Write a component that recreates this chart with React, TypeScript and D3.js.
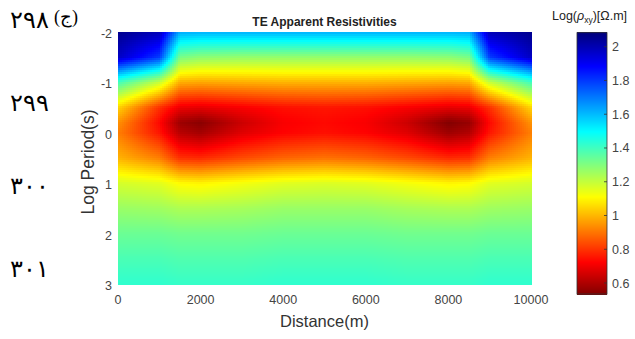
import React, { useRef, useEffect } from "react";
import * as d3 from "d3";

// grid of the apparent resistivity section (log10 ohm.m)
const distances = [0, 1000, 1500, 2000, 3000, 4000, 5000, 6000, 7000, 8000, 8500, 9000, 10000];
const periods = [-2, -1.5, -1, -0.5, -0.2, 0, 0.5, 1, 1.5, 2, 2.5, 3];

const rowM20 = [2.06, 2.0, 1.63, 1.62, 1.62, 1.62, 1.62, 1.62, 1.62, 1.62, 1.63, 2.0, 2.06];
const rowM15 = [1.98, 1.8, 1.32, 1.29, 1.28, 1.28, 1.28, 1.28, 1.28, 1.29, 1.32, 1.8, 1.98];
const rowM10 = [1.4, 1.2, 0.99, 0.98, 0.99, 1.0, 1.0, 1.0, 0.99, 0.98, 0.99, 1.2, 1.4];
const rowM05 = [1.05, 0.8, 0.7, 0.69, 0.72, 0.75, 0.76, 0.75, 0.72, 0.69, 0.7, 0.8, 1.05];
const rowM02 = [0.95, 0.74, 0.58, 0.55, 0.65, 0.72, 0.74, 0.72, 0.65, 0.54, 0.57, 0.74, 0.95];
const row00 = [0.92, 0.76, 0.62, 0.59, 0.68, 0.73, 0.75, 0.73, 0.68, 0.58, 0.61, 0.76, 0.92];
const row05 = [1.0, 0.92, 0.8, 0.79, 0.84, 0.88, 0.9, 0.88, 0.84, 0.79, 0.8, 0.92, 1.0];
const row10 = [1.18, 1.16, 1.11, 1.1, 1.13, 1.16, 1.17, 1.16, 1.13, 1.1, 1.11, 1.16, 1.18];
const row15 = [1.27, 1.26, 1.24, 1.24, 1.25, 1.27, 1.27, 1.27, 1.25, 1.24, 1.24, 1.26, 1.27];
const row20 = [1.34, 1.34, 1.33, 1.33, 1.33, 1.34, 1.34, 1.34, 1.33, 1.33, 1.33, 1.34, 1.34];
const row25 = [1.39, 1.39, 1.38, 1.38, 1.38, 1.39, 1.39, 1.39, 1.38, 1.38, 1.38, 1.39, 1.39];
const row30 = [1.43, 1.43, 1.42, 1.42, 1.42, 1.43, 1.43, 1.43, 1.42, 1.42, 1.42, 1.43, 1.43];
const grid = [rowM20, rowM15, rowM10, rowM05, rowM02, row00, row05, row10, row15, row20, row25, row30];

const xTicks = [0, 2000, 4000, 6000, 8000, 10000];
const yTicks = [-2, -1, 0, 1, 2, 3];
const cbTicks = [0.6, 0.8, 1, 1.2, 1.4, 1.6, 1.8, 2];
const colorDomain = [0.535, 2.083];
const pageNumbers = ["٢٩٨", "٢٩٩", "٣٠٠", "٣٠١"];

const jet = (t: number) => {
  const c = (v: number) => Math.round(255 * Math.max(0, Math.min(1, v)));
  return `rgb(${c(1.5 - Math.abs(4 * t - 3))},${c(1.5 - Math.abs(4 * t - 2))},${c(1.5 - Math.abs(4 * t - 1))})`;
};

const sample = (d: number, p: number) => {
  const i = Math.max(0, Math.min(distances.length - 2, d3.bisectRight(distances, d) - 1));
  const j = Math.max(0, Math.min(periods.length - 2, d3.bisectRight(periods, p) - 1));
  const tx = (d - distances[i]) / (distances[i + 1] - distances[i]);
  const ty = (p - periods[j]) / (periods[j + 1] - periods[j]);
  const a = grid[j][i] * (1 - tx) + grid[j][i + 1] * tx;
  const b = grid[j + 1][i] * (1 - tx) + grid[j + 1][i + 1] * tx;
  return a * (1 - ty) + b * ty;
};

const font = "'Liberation Sans', Arial, sans-serif";

const App = () => {
  const svgRef = useRef<SVGSVGElement>(null);

  useEffect(() => {
    const svg = d3.select(svgRef.current);
    svg.selectAll("*").remove();

    const left = 118, right = 531, top = 32, bottom = 284;
    const x = d3.scaleLinear().domain([0, 10000]).range([left, right]);
    const y = d3.scaleLinear().domain([-2, 3]).range([top, bottom]);
    const t = d3.scaleLinear().domain([colorDomain[1], colorDomain[0]]).range([0, 1]).clamp(true);

    // heatmap cells, shaded between grid nodes
    const step = 2;
    const cells: { px: number; py: number; v: number }[] = [];
    for (let py = top; py < bottom; py += step) {
      for (let px = left; px < right; px += step) {
        cells.push({ px, py, v: sample(x.invert(px + step / 2), y.invert(py + step / 2)) });
      }
    }
    svg
      .append("g")
      .attr("shape-rendering", "crispEdges")
      .selectAll("rect")
      .data(cells)
      .join("rect")
      .attr("x", (d) => d.px)
      .attr("y", (d) => d.py)
      .attr("width", (d) => Math.min(step, right - d.px) + 0.5)
      .attr("height", (d) => Math.min(step, bottom - d.py) + 0.5)
      .attr("fill", (d) => jet(t(d.v)));

    // axes
    svg
      .append("g")
      .selectAll("text")
      .data(xTicks)
      .join("text")
      .attr("x", (d) => x(d))
      .attr("y", 304)
      .attr("text-anchor", "middle")
      .attr("font-size", 12.5)
      .attr("fill", "#444")
      .attr("font-family", font)
      .text((d) => d);

    svg
      .append("g")
      .selectAll("text")
      .data(yTicks)
      .join("text")
      .attr("x", 112)
      .attr("y", (d) => y(d) + 6)
      .attr("text-anchor", "end")
      .attr("font-size", 12.5)
      .attr("fill", "#444")
      .attr("font-family", font)
      .text((d) => d);

    svg
      .append("text")
      .attr("x", (left + right) / 2)
      .attr("y", 327)
      .attr("text-anchor", "middle")
      .attr("font-size", 16.5)
      .attr("fill", "#333")
      .attr("font-family", font)
      .text("Distance(m)");

    svg
      .append("text")
      .attr("transform", `translate(94,162) rotate(-90)`)
      .attr("text-anchor", "middle")
      .attr("font-size", 17.5)
      .attr("fill", "#333")
      .attr("font-family", font)
      .text("Log Period(s)");

    svg
      .append("text")
      .attr("x", (left + right) / 2)
      .attr("y", 26)
      .attr("text-anchor", "middle")
      .attr("font-size", 12)
      .attr("font-weight", "bold")
      .attr("fill", "#222")
      .attr("font-family", font)
      .text("TE Apparent Resistivities");

    // colorbar
    const cbLeft = 577, cbWidth = 30;
    const cy = d3.scaleLinear().domain(colorDomain).range([294, 32.7]);
    const cbVals = d3.range(0, 262).map((i) => cy.invert(294 - i - 0.5));
    svg
      .append("g")
      .attr("shape-rendering", "crispEdges")
      .selectAll("rect")
      .data(cbVals)
      .join("rect")
      .attr("x", cbLeft)
      .attr("y", (d) => cy(d) - 0.5)
      .attr("width", cbWidth)
      .attr("height", 1.5)
      .attr("fill", (d) => jet(t(d)));
    svg
      .append("rect")
      .attr("x", cbLeft)
      .attr("y", 32.7)
      .attr("width", cbWidth)
      .attr("height", 294 - 32.7)
      .attr("fill", "none")
      .attr("stroke", "#333")
      .attr("stroke-width", 0.8);
    const cbAxis = svg.append("g");
    cbAxis
      .selectAll("line")
      .data(cbTicks)
      .join("line")
      .attr("x1", cbLeft + cbWidth - 3)
      .attr("x2", cbLeft + cbWidth)
      .attr("y1", (d) => cy(d))
      .attr("y2", (d) => cy(d))
      .attr("stroke", "#333")
      .attr("stroke-width", 0.8);
    cbAxis
      .selectAll("text")
      .data(cbTicks)
      .join("text")
      .attr("x", 612)
      .attr("y", (d) => cy(d) + 4.5)
      .attr("font-size", 12.5)
      .attr("fill", "#444")
      .attr("font-family", font)
      .text((d) => d);

    const cbLabel = svg
      .append("text")
      .attr("x", 552)
      .attr("y", 20)
      .attr("font-size", 12.5)
      .attr("fill", "#222")
      .attr("font-family", font);
    cbLabel.append("tspan").text("Log(");
    cbLabel.append("tspan").attr("font-style", "italic").text("ρ");
    cbLabel.append("tspan").attr("font-size", 8.5).attr("dy", 3).text("xy");
    cbLabel.append("tspan").attr("dy", -3).text(")[Ω.m]");

    // page numbers on the left margin
    svg
      .append("g")
      .selectAll("text")
      .data(pageNumbers)
      .join("text")
      .attr("x", 10)
      .attr("y", (d, i) => 28 + i * 83)
      .attr("font-size", 24)
      .attr("fill", "#000")
      .attr("font-family", "serif")
      .text((d) => d);
    svg
      .append("text")
      .attr("x", 54)
      .attr("y", 23)
      .attr("font-size", 18)
      .attr("fill", "#000")
      .attr("font-family", "serif")
      .text("(ج)");
  }, []);

  return (
    <svg
      ref={svgRef}
      width={635}
      height={339}
      style={{ position: "absolute", left: 0, top: 0, background: "#fff" }}
    ></svg>
  );
};

export default App;
